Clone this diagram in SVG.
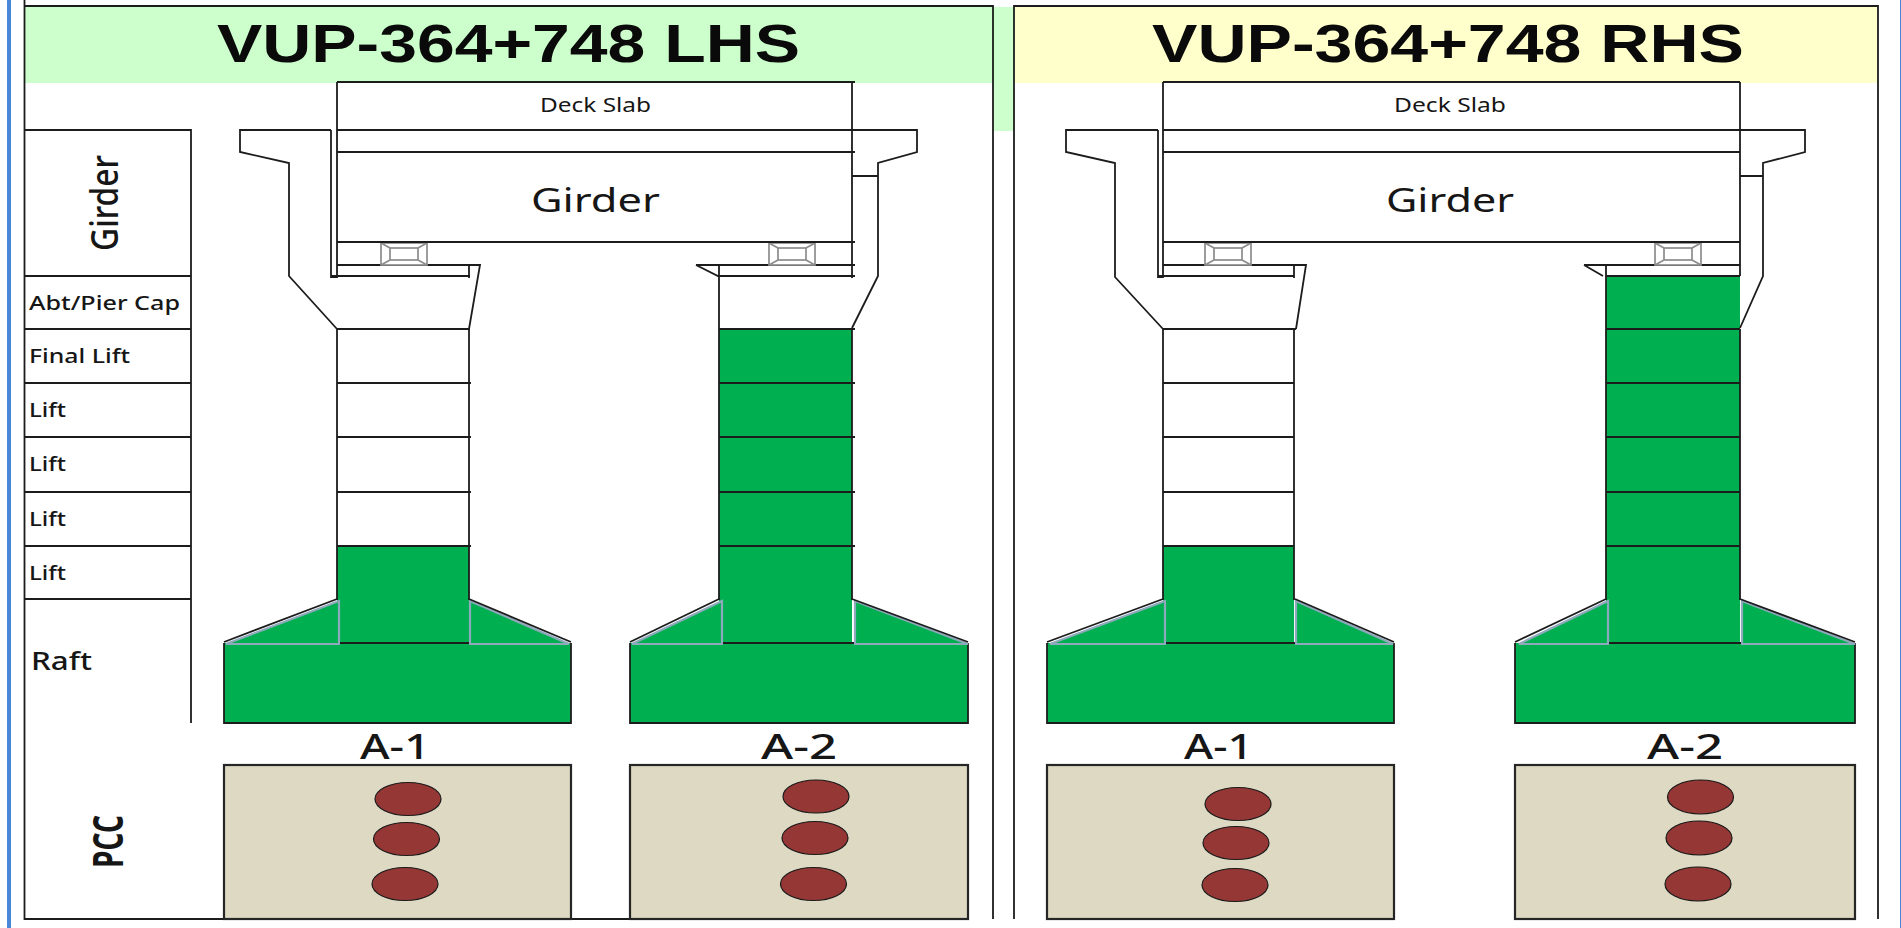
<svg xmlns="http://www.w3.org/2000/svg" width="1901" height="928" viewBox="0 0 1901 928">
<style>
.l{fill:none;stroke:#1c1c1c;stroke-width:1.8;stroke-linejoin:miter}
.f{stroke:#1c1c1c;stroke-width:1.8}
.g{fill:#00b050}
.h{fill:#00b050;stroke:#8ea9bb;stroke-width:2.2}
.p{fill:#ddd9c3;stroke:#262626;stroke-width:2.2}
.e{fill:#953735;stroke:#1a1a1a;stroke-width:1.2}
.b{fill:#fff;stroke:#8c8c8c;stroke-width:1.7}
.t{font-family:"Noto Sans","Open Sans",sans-serif;fill:#161616}
.r{font-weight:500}
.h1{font-family:"Liberation Sans",Arial,sans-serif;font-weight:700;font-size:53px;fill:#0a0a0a}
.a{font-size:35px;font-weight:500}
.s{font-size:20px}
</style>
<defs>
<g id="bearing"><rect x="0" y="1" width="46" height="22" class="b"/><rect x="9" y="6" width="28" height="12" class="b"/><path d="M0 1L9 6M46 1L37 6M0 23L9 18M46 23L37 18" class="b"/></g>
</defs>
<rect id="page" x="0" y="0" width="1901" height="928" fill="#fff"/>
<rect x="7" y="0" width="4" height="928" fill="#4a86d8"/>
<rect x="1900" y="0" width="1" height="928" fill="#4a86d8"/>
<g id="headers">
<path d="M25 7H993V83H25Z" fill="#ccffcc"/>
<path d="M993 7H1014V131H993Z" fill="#ccffcc"/>
<path d="M1015 7H1877V83H1015Z" fill="#ffffcc"/>
<text class="h1" x="217" y="62" textLength="583" lengthAdjust="spacingAndGlyphs">VUP-364+748 LHS</text>
<text class="h1" x="1152" y="62" textLength="592" lengthAdjust="spacingAndGlyphs">VUP-364+748 RHS</text>
</g>
<g id="frames">
<path class="l" d="M24.5 0V919H969M24.5 6H993V919M1014 919V6H1878V919"/>
</g>
<g id="row-labels">
<path class="l" d="M24 130H191V723M24 276H191M24 329H191M24 383H191M24 437H191M24 492H191M24 546H191M24 599H191"/>
<text class="t" transform="translate(118 251) rotate(-90)" font-size="38" font-weight="500" textLength="96" lengthAdjust="spacingAndGlyphs">Girder</text>
<text class="t r" x="29" y="310" font-size="19" textLength="151" lengthAdjust="spacingAndGlyphs">Abt/Pier Cap</text>
<text class="t r" x="29" y="363" font-size="19" textLength="101" lengthAdjust="spacingAndGlyphs">Final Lift</text>
<text class="t r" x="29" y="417" font-size="19" textLength="37" lengthAdjust="spacingAndGlyphs">Lift</text>
<text class="t r" x="29" y="471" font-size="19" textLength="37" lengthAdjust="spacingAndGlyphs">Lift</text>
<text class="t r" x="29" y="526" font-size="19" textLength="37" lengthAdjust="spacingAndGlyphs">Lift</text>
<text class="t r" x="29" y="580" font-size="19" textLength="37" lengthAdjust="spacingAndGlyphs">Lift</text>
<text class="t r" x="31" y="670" font-size="25" textLength="61" lengthAdjust="spacingAndGlyphs">Raft</text>
<text class="t" transform="translate(123 868) rotate(-90)" font-size="42" font-weight="700" textLength="53" lengthAdjust="spacingAndGlyphs">PCC</text>
</g>
<g id="lhs-a1">
<path class="g" d="M337 546H469V643H337Z"/>
<path class="g" d="M224 643H571V723H224Z"/>
<path class="l" d="M224 643V723H571V643"/>
<path class="h" d="M226 644L339 601V644Z"/><path class="h" d="M470 601L569 644H470Z"/>
<path class="l" d="M224 642L337 599M469 599L571 642M340 643H469"/>
<path class="l" d="M337 82V278M337 329V600M469 265V278M469 329V600M337 329H470M337 383H471M337 437H471M337 492H471M337 546H471"/>
<path class="l" d="M331 130H240V152L289 163V276L337 329M331 130V277H337M331 276H470M469 329L480 265H337"/>
<use href="#bearing" x="381" y="242"/>
<rect class="p" x="224" y="765" width="347" height="154"/>
<ellipse class="e" cx="408" cy="799" rx="33" ry="16.5"/><ellipse class="e" cx="406.500" cy="839" rx="33" ry="16.5"/><ellipse class="e" cx="405" cy="884" rx="33" ry="16.5"/>
<text class="t a" x="360" y="759" textLength="70" lengthAdjust="spacingAndGlyphs">A-1</text>
</g>
<g id="lhs-a2">
<path class="g" d="M719 329H852V643H719Z"/>
<path class="g" d="M630 643H968V723H630Z"/>
<path class="l" d="M630 643V723H968V643"/>
<path class="h" d="M632 644L722 601V644Z"/><path class="h" d="M855 601L968 644H855Z"/>
<path class="l" d="M630 642L719 599M852 599L968 642M723 643H854"/>
<path class="l" d="M719 265V600M852 82V278M852 329V600M719 329H855M719 383H855M719 437H855M719 492H855M719 546H855"/>
<path class="l" d="M852 130H917V152L878 163V276L852 328M852 176H878M696 265L718 276H855M696 265H855"/>
<use href="#bearing" x="769" y="242"/>
<rect class="p" x="630" y="765" width="338" height="154"/>
<ellipse class="e" cx="816" cy="796.500" rx="33" ry="16.5"/><ellipse class="e" cx="815" cy="838" rx="33" ry="16.5"/><ellipse class="e" cx="813.500" cy="884" rx="33" ry="16.5"/>
<text class="t a" x="761" y="759" textLength="76" lengthAdjust="spacingAndGlyphs">A-2</text>
</g>
<g id="lhs-deck">
<path class="l" d="M337 82H855M337 130H855M337 152H855M337 242H855"/>
<text class="t s" x="540" y="112" textLength="111" lengthAdjust="spacingAndGlyphs">Deck Slab</text>
<text class="t" x="531" y="212" font-size="33" textLength="129" lengthAdjust="spacingAndGlyphs">Girder</text>
</g>
<g id="rhs-a1">
<path class="g" d="M1163 546H1294V643H1163Z"/>
<path class="g" d="M1047 643H1394V723H1047Z"/>
<path class="l" d="M1047 643V723H1394V643"/>
<path class="h" d="M1050 644L1165 601V644Z"/><path class="h" d="M1296 601L1393 644H1296Z"/>
<path class="l" d="M1047 642L1163 599M1295 599L1394 642M1166 643H1295"/>
<path class="l" d="M1163 82V278M1163 329V600M1294 265V278M1294 329V600M1163 329H1296M1163 383H1294M1163 437H1294M1163 492H1294M1163 546H1294"/>
<path class="l" d="M1158 130H1066V152L1115 163V277L1163 329M1158 130V277H1163M1158 276H1294M1296 329L1306 265H1163"/>
<use href="#bearing" x="1205" y="242"/>
<rect class="p" x="1047" y="765" width="347" height="154"/>
<ellipse class="e" cx="1238" cy="804" rx="33" ry="16.5"/><ellipse class="e" cx="1236" cy="843" rx="33" ry="16.5"/><ellipse class="e" cx="1235" cy="885" rx="33" ry="16.5"/>
<text class="t a" x="1184" y="759" textLength="69" lengthAdjust="spacingAndGlyphs">A-1</text>
</g>
<g id="rhs-a2">
<path class="g" d="M1606 276H1740V643H1606Z"/>
<path class="g" d="M1515 643H1855V723H1515Z"/>
<path class="l" d="M1515 643V723H1855V643"/>
<path class="h" d="M1519 644L1608 601V644Z"/><path class="h" d="M1742 601L1855 644H1742Z"/>
<path class="l" d="M1515 642L1606 599M1740 599L1855 642M1609 643H1741"/>
<path class="l" d="M1606 265V600M1740 329V600M1740 82V276M1606 329H1740M1606 383H1740M1606 437H1740M1606 492H1740M1606 546H1740M1606 276H1740"/>
<path class="l" d="M1740 130H1805V152L1763 163V276L1740 328M1740 176H1763M1584 265L1603 276M1584 265H1740"/>
<use href="#bearing" x="1655" y="242"/>
<rect class="p" x="1515" y="765" width="340" height="154"/>
<ellipse class="e" cx="1700.500" cy="797" rx="33" ry="17"/><ellipse class="e" cx="1699" cy="838" rx="33" ry="17"/><ellipse class="e" cx="1698" cy="884" rx="33" ry="17"/>
<text class="t a" x="1647" y="759" textLength="76" lengthAdjust="spacingAndGlyphs">A-2</text>
</g>
<g id="rhs-deck">
<path class="l" d="M1163 82H1740M1163 130H1740M1163 152H1740M1163 242H1740"/>
<text class="t s" x="1394" y="112" textLength="112" lengthAdjust="spacingAndGlyphs">Deck Slab</text>
<text class="t" x="1386" y="212" font-size="33" textLength="128" lengthAdjust="spacingAndGlyphs">Girder</text>
</g>
</svg>
